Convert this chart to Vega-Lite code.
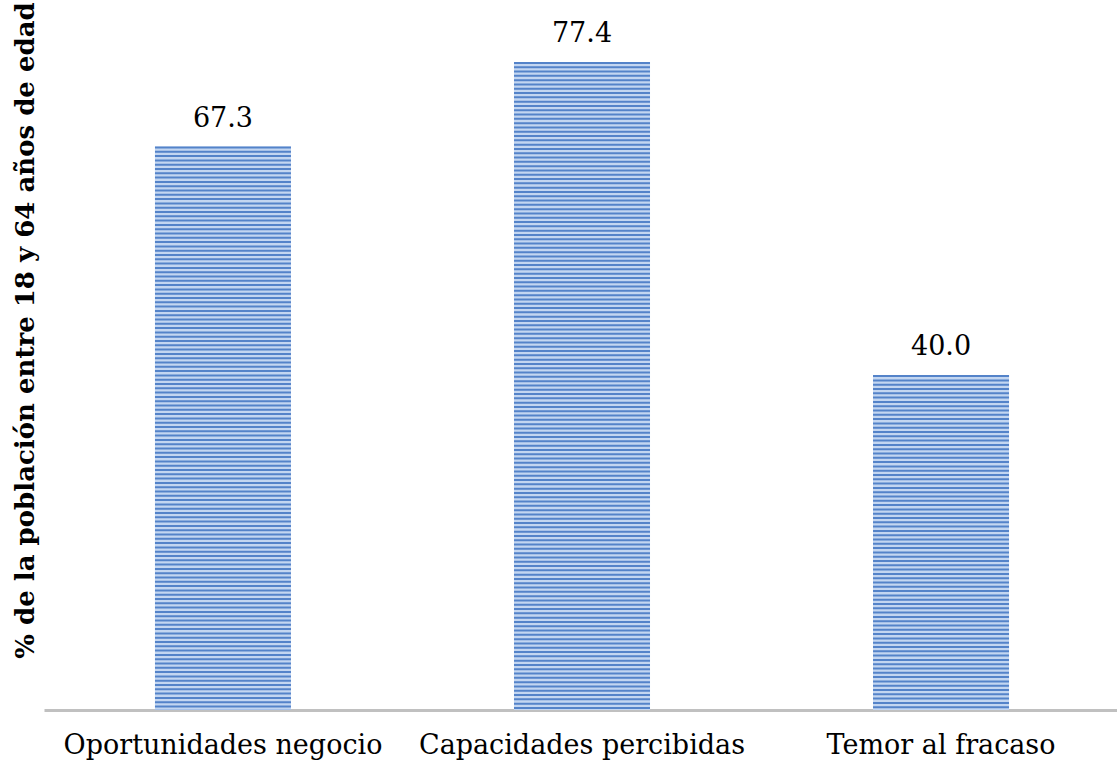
{
  "$schema": "https://vega.github.io/schema/vega-lite/v6.json",
  "autosize": {"type": "none"},
  "padding": {"left": 44, "top": 0, "right": 0, "bottom": 57},
  "width": 1076,
  "height": 710,
  "background": "white",
  "data": {"values": [
    {"categoria": "Oportunidades negocio", "valor": 67.3},
    {"categoria": "Capacidades percibidas", "valor": 77.4},
    {"categoria": "Temor al fracaso", "valor": 40.0}
  ]},
  "config": {"view": {"stroke": null}},
  "encoding": {
    "x": {
      "field": "categoria", "type": "nominal", "sort": null,
      "scale": {"paddingInner": 0.621, "paddingOuter": 0.309},
      "axis": {
        "title": null, "labelAngle": 0, "ticks": false, "labelLimit": 0,
        "labelFont": "DejaVu Serif", "labelFontSize": 27, "labelColor": "#000000",
        "labelPadding": 22, "domainColor": "#c0c0c0", "domainWidth": 3
      }
    },
    "y": {
      "field": "valor", "type": "quantitative",
      "scale": {"domain": [0, 84.8], "nice": false},
      "axis": {
        "title": "% de la población entre 18 y 64 años de edad",
        "titleFont": "DejaVu Serif", "titleFontWeight": "bold", "titleFontSize": 26,
        "titleColor": "#000000", "titleAngle": -90, "titleX": -19, "titleY": 330,
        "titleAlign": "center", "titleBaseline": "middle", "titleLimit": 0,
        "labels": false, "ticks": false, "domain": false, "grid": false
      }
    }
  },
  "layer": [
    {"mark": {"type": "bar", "fill": "#c3d6f1"}},
    {
      "mark": {"type": "rule", "stroke": "#5483c9", "strokeWidth": 136, "strokeDash": [2, 2.3], "strokeCap": "butt"},
      "encoding": {"y2": {"datum": 0}}
    },
    {
      "mark": {"type": "text", "font": "DejaVu Serif", "fontSize": 27, "baseline": "bottom", "dy": -14, "color": "#000000"},
      "encoding": {"text": {"field": "valor", "type": "quantitative", "format": ".1f"}}
    }
  ]
}
